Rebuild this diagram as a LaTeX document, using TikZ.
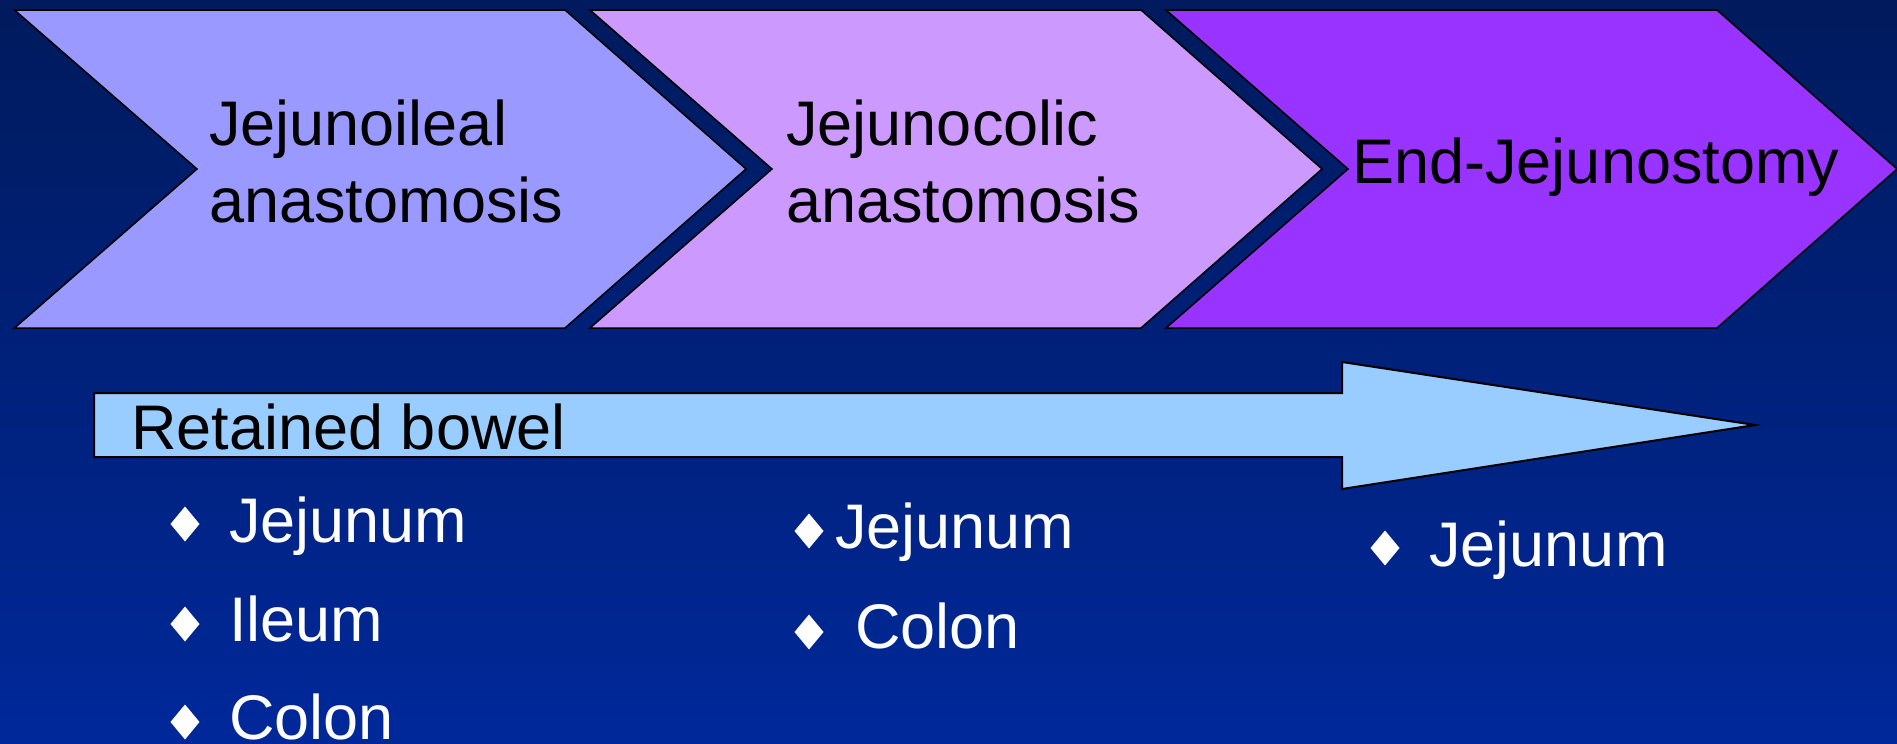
\documentclass[tikz,border=0pt]{standalone}
\usepackage{fontspec}
\setmainfont{Liberation Sans}
\definecolor{bgtop}{HTML}{001A5C}
\definecolor{bgbot}{HTML}{00289A}
\definecolor{chevA}{HTML}{9999FF}
\definecolor{chevB}{HTML}{CC99FF}
\definecolor{chevC}{HTML}{9933FF}
\definecolor{arrowfill}{HTML}{99CCFF}
\newcommand\bdiam[2]{\fill[white] (#1,#2-17.5) -- (#1+14.5,#2) -- (#1,#2+17.5) -- (#1-14.5,#2) -- cycle;}
\tikzset{
  chev/.style={draw=black, line width=0.75pt, line join=miter},
  txt/.style={anchor=base west, inner sep=0pt, font=\fontsize{31.5pt}{38.5pt}\selectfont, text=black, align=left},
  wtxt/.style={txt, text=white},
}
\begin{document}
\begin{tikzpicture}[x=0.5pt,y=-0.5pt]
\useasboundingbox (0,0) rectangle (1897,744);
\shade[top color=bgtop, bottom color=bgbot] (0,0) rectangle (1897,744);
% chevrons
\filldraw[chev, fill=chevA] (14.5,10) -- (565,10) -- (746,169) -- (565,328) -- (14.5,328) -- (197,169) -- cycle;
\filldraw[chev, fill=chevB] (590,10) -- (1141,10) -- (1322,169) -- (1141,328) -- (590,328) -- (772,169) -- cycle;
\filldraw[chev, fill=chevC] (1166,10) -- (1717,10) -- (1897,169) -- (1717,328) -- (1166,328) -- (1348,169) -- cycle;
\node[txt] (t1) at (209,222) {Jejunoileal\\anastomosis};
\node[txt] (t2) at (786,222) {Jejunocolic\\anastomosis};
\node[txt] (t3) at (1352,183) {End-Jejunostomy};
% retained bowel arrow
\filldraw[draw=black, line width=1pt, fill=arrowfill] (94,393) -- (1342,393) -- (1342,362) -- (1755,425) -- (1342,489) -- (1342,457) -- (94,457) -- cycle;
\node[txt] (rb) at (131,449) {Retained bowel};
% bullets column 1
\bdiam{185}{524}
\node[wtxt] (c1a) at (229,542) {Jejunum};
\bdiam{185}{624}
\node[wtxt] (c1b) at (229,641) {Ileum};
\bdiam{185}{722}
\node[wtxt] (c1c) at (229,739) {Colon};
% column 2
\bdiam{809}{531}
\node[wtxt] (c2a) at (835,548) {Jejunum};
\bdiam{809}{632}
\node[wtxt] (c2b) at (855,648) {Colon};
% column 3
\bdiam{1385}{548}
\node[wtxt] (c3a) at (1429,566) {Jejunum};
\end{tikzpicture}
\end{document}
